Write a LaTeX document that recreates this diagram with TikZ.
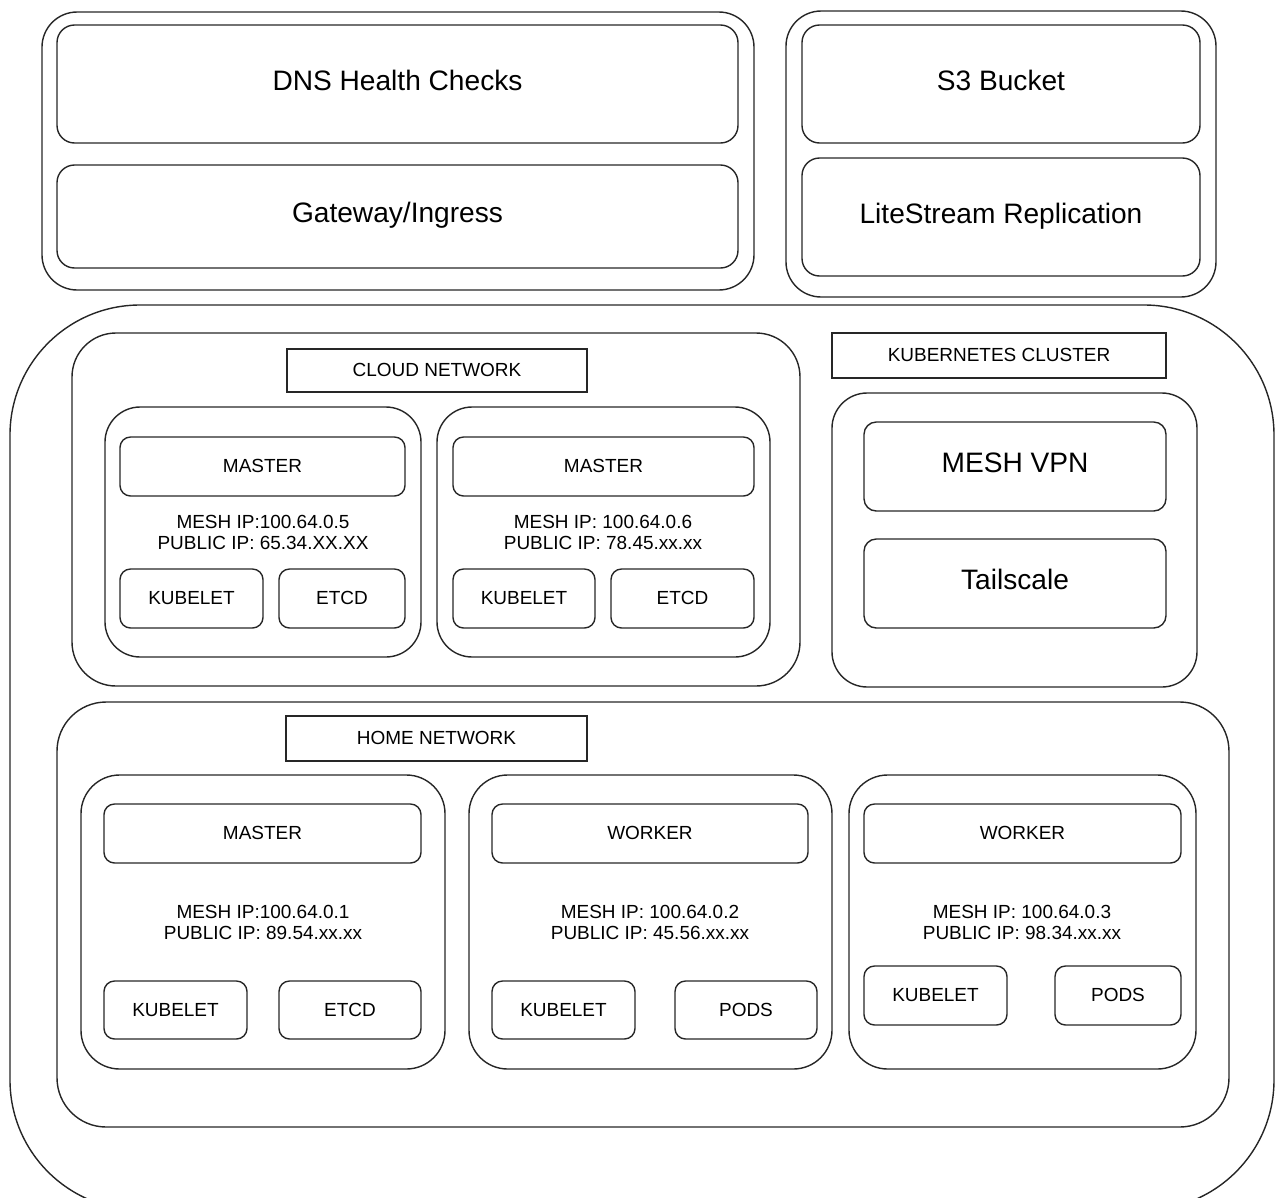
\documentclass[tikz,border=0pt]{standalone}
\usepackage{fontspec}
\setmainfont{Liberation Sans}
\usepackage{tikz}

\newcommand{\bigtxt}{\fontsize{16}{19}\selectfont}
\newcommand{\smalltxt}{\fontsize{10.8}{12}\selectfont}

\begin{document}
\begin{tikzpicture}[x=0.02cm, y=-0.02cm, line width=0.8pt,
  area/.style args={#1/#2/#3/#4}{at={({(#1+#3)/2},{(#2+#4)/2})},
    minimum width={(#3-#1)*0.02cm}, minimum height={(#4-#2)*0.02cm}},
  box/.style={draw=black!85, inner sep=0pt, align=center, text height=0.72em, text depth=0pt},
  shell/.style={box, rounded corners=20pt},
  panel/.style={box, rounded corners=10pt, font=\bigtxt},
  tag/.style={box, font=\smalltxt},
  unit/.style={box, rounded corners=6pt, font=\smalltxt},
  info/.style={align=center, font=\smalltxt}]
\useasboundingbox (0,0) rectangle (1276,1198);
\clip (0,0) rectangle (1276,1198);

\node[shell, area=42/12/754/290] (edge) {};
\node[panel, area=57/25/738/143] (dns) {DNS Health Checks};
\node[panel, area=57/165/738/268] (gateway) {Gateway/Ingress};
\node[shell, area=786/11/1216/297] (storage) {};
\node[panel, area=802/25/1200/143] (s3) {S3 Bucket};
\node[panel, area=802/158/1200/276] (litestream) {LiteStream Replication};

\node[box, rounded corners=74pt, area=10/305/1274/1210] (cluster) {};

\node[box, rounded corners=25pt, area=72/333/800/686] (cloud) {};
\node[tag, area=287/349/587/392] (cloudlbl) {CLOUD NETWORK};
\node[shell, area=105/407/421/657] (m1) {};
\node[unit, area=120/437/405/496] (m1head) {MASTER};
\node[info] (m1ip) at (263,532) {MESH IP:100.64.0.5\\PUBLIC IP: 65.34.XX.XX};
\node[unit, area=120/569/263/628] (m1kube) {KUBELET};
\node[unit, area=279/569/405/628] (m1etcd) {ETCD};
\node[shell, area=437/407/770/657] (m2) {};
\node[unit, area=453/437/754/496] (m2head) {MASTER};
\node[info] (m2ip) at (603,532) {MESH IP: 100.64.0.6\\PUBLIC IP: 78.45.xx.xx};
\node[unit, area=453/569/595/628] (m2kube) {KUBELET};
\node[unit, area=611/569/754/628] (m2etcd) {ETCD};

\node[tag, area=832/333/1166/378] (k8slbl) {KUBERNETES CLUSTER};
\node[shell, area=832/393/1197/687] (vpn) {};
\node[panel, rounded corners=7pt, area=864/422/1166/511] (mesh) {MESH VPN};
\node[panel, rounded corners=7pt, area=864/539/1166/628] (tailscale) {Tailscale};

\node[box, rounded corners=28pt, area=57/702/1229/1127] (home) {};
\node[tag, area=286/716/587/761] (homelbl) {HOME NETWORK};
\node[box, rounded corners=22pt, area=81/775/445/1069] (h1) {};
\node[unit, area=104/804/421/863] (h1head) {MASTER};
\node[info] (h1ip) at (263,922) {MESH IP:100.64.0.1\\PUBLIC IP: 89.54.xx.xx};
\node[unit, area=104/981/247/1039] (h1kube) {KUBELET};
\node[unit, area=279/981/421/1039] (h1etcd) {ETCD};
\node[box, rounded corners=22pt, area=469/775/832/1069] (w1) {};
\node[unit, area=492/804/808/863] (w1head) {WORKER};
\node[info] (w1ip) at (650,922) {MESH IP: 100.64.0.2\\PUBLIC IP: 45.56.xx.xx};
\node[unit, area=492/981/635/1039] (w1kube) {KUBELET};
\node[unit, area=675/981/817/1039] (w1pods) {PODS};
\node[box, rounded corners=22pt, area=849/775/1196/1069] (w2) {};
\node[unit, area=864/804/1181/863] (w2head) {WORKER};
\node[info] (w2ip) at (1022,922) {MESH IP: 100.64.0.3\\PUBLIC IP: 98.34.xx.xx};
\node[unit, area=864/966/1007/1025] (w2kube) {KUBELET};
\node[unit, area=1055/966/1181/1025] (w2pods) {PODS};
\end{tikzpicture}
\end{document}
